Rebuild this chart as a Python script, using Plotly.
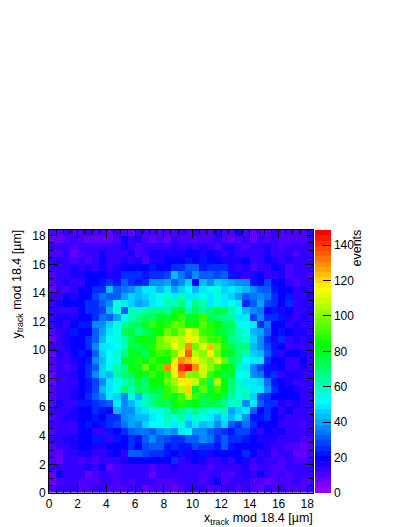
import colorsys
import plotly.graph_objects as go

BIN_WIDTH = 0.5
X_MAX = 18.4
Z_MAX = 148.5

# Counts per bin, rows listed from the top of the picture (y = 18..18.4) downwards
events_rows_top_down = [
    [9,10,12,10,9,14,11,9,8,12,9,8,13,9,11,10,9,10,12,10,14,9,10,16,9,10,18,9,8,10,11,13,10,9,10,11,12],
    [8,7,9,12,9,8,7,6,8,10,18,12,16,9,8,9,8,12,10,9,11,10,9,12,9,8,9,13,7,12,9,13,9,10,11,10,12],
    [12,13,12,9,14,13,12,14,13,14,15,12,9,13,12,13,14,15,14,16,14,15,13,9,16,15,14,11,13,12,15,13,9,14,12,13,13],
    [9,10,12,8,11,13,12,16,13,13,14,15,11,14,16,15,16,17,16,18,19,17,20,16,13,15,12,12,13,14,16,14,12,14,11,12,14],
    [14,17,13,9,12,11,13,18,12,13,15,14,16,10,17,16,18,20,18,22,20,21,19,20,16,15,17,19,14,12,18,17,12,15,13,13,14],
    [12,12,14,16,13,15,14,17,14,17,18,18,19,18,22,20,20,24,24,30,30,22,26,24,24,16,13,17,11,14,12,18,16,10,12,12,14],
    [10,13,14,16,17,18,20,19,17,16,24,24,24,23,24,24,28,42,34,28,38,30,30,28,30,22,15,13,17,18,13,14,17,11,14,13,11],
    [10,14,15,12,14,19,20,22,24,22,32,26,22,24,38,38,40,30,38,46,20,44,36,46,44,40,38,36,22,20,28,20,20,14,11,14,14],
    [8,14,11,12,20,20,24,24,42,32,34,36,42,48,48,44,50,40,46,52,42,50,56,54,46,50,45,44,38,30,30,22,20,18,13,15,12],
    [12,13,18,16,18,20,28,33,30,30,40,46,44,46,50,56,58,50,60,50,48,54,50,56,50,46,40,30,34,36,34,25,18,22,14,13,15],
    [13,15,18,19,18,24,26,30,38,54,50,46,40,44,50,52,60,62,66,56,66,60,50,56,48,54,48,26,30,40,28,24,20,24,14,16,14],
    [12,14,12,14,19,24,24,28,44,54,32,62,58,60,68,68,64,76,78,60,72,64,70,76,72,60,52,44,36,34,20,22,16,20,13,14,15],
    [14,15,17,17,18,20,26,34,32,40,52,60,66,72,70,78,76,86,92,78,80,90,72,70,66,64,48,50,28,36,26,24,22,17,14,16,13],
    [13,15,14,18,22,22,36,38,46,54,64,70,74,78,90,84,88,96,94,84,84,94,88,84,72,72,56,52,48,24,34,20,20,14,16,14,13],
    [11,13,15,22,18,20,30,40,50,56,74,76,66,72,80,86,96,92,100,110,104,90,88,80,76,70,60,54,42,40,30,20,22,18,15,17,13],
    [8,14,17,18,20,24,32,44,52,54,62,72,82,84,78,96,104,108,104,116,112,100,90,92,78,68,60,58,46,36,24,16,24,12,16,14,15],
    [12,14,16,18,20,26,36,48,48,52,62,76,74,80,88,96,100,114,104,128,98,112,122,100,88,74,66,70,44,36,28,22,18,14,14,14,12],
    [7,16,14,18,22,20,30,46,52,58,68,78,80,72,84,92,88,96,118,134,104,100,116,96,78,78,66,60,46,42,32,22,14,20,18,15,14],
    [10,12,14,16,18,22,36,44,52,56,80,78,88,82,92,86,84,110,128,124,118,106,100,110,98,70,66,52,50,48,26,20,18,14,14,18,14],
    [10,13,11,14,20,24,32,46,54,60,68,86,80,96,84,92,128,118,140,148,128,108,100,92,84,80,62,50,38,28,22,16,20,14,14,16,12],
    [8,12,14,16,20,24,36,46,42,64,70,72,84,78,90,82,92,110,130,100,96,108,92,84,72,78,52,56,36,34,22,24,14,17,15,14,13],
    [7,13,12,13,18,22,28,38,48,54,60,68,76,70,84,86,98,102,116,118,108,90,72,104,82,70,58,50,48,46,34,22,20,16,12,14,13],
    [10,13,14,15,18,22,28,42,48,56,70,62,74,70,80,76,88,98,106,120,78,96,78,90,84,68,58,58,50,48,36,26,18,18,16,14,12],
    [9,12,13,17,20,24,30,36,50,46,38,58,44,60,68,74,88,78,90,104,92,76,78,84,74,64,56,60,46,28,26,20,18,20,18,14,13],
    [11,15,12,14,22,22,24,28,30,50,36,44,50,62,66,72,74,86,88,80,82,72,76,74,66,58,60,38,48,30,24,26,16,14,16,12,14],
    [13,12,14,15,18,20,24,23,18,42,38,36,46,48,56,54,62,76,68,62,66,62,56,58,62,40,46,48,30,20,26,20,14,18,12,14,13],
    [10,12,15,16,20,20,22,18,24,24,36,40,44,42,48,52,60,54,64,50,58,54,50,44,50,44,48,38,22,22,26,18,16,14,14,12,13],
    [12,13,14,13,18,22,20,22,26,28,34,40,38,46,52,52,58,48,54,44,50,44,46,38,46,30,26,34,24,20,18,18,14,12,13,10,12],
    [9,12,12,14,20,18,14,14,22,18,24,32,34,34,30,38,40,36,48,52,38,38,30,28,26,22,28,28,22,14,20,16,18,12,14,12,13],
    [13,14,15,16,20,18,22,23,12,22,20,26,22,30,36,30,28,24,26,32,32,38,34,26,30,24,26,22,19,17,17,16,14,13,14,11,10],
    [11,13,14,15,18,20,15,16,20,20,20,24,18,28,30,32,22,26,22,22,28,24,26,22,30,22,20,20,18,20,15,14,12,10,11,8,10],
    [10,8,13,14,16,16,12,14,16,18,14,30,30,28,24,26,22,18,22,16,20,22,16,20,20,18,18,24,20,14,15,10,12,12,8,7,11],
    [11,8,12,12,10,12,10,12,14,12,17,18,20,20,20,20,18,24,14,16,18,16,14,14,16,14,20,16,12,16,14,13,10,13,10,10,12],
    [13,14,12,12,14,15,14,18,8,10,12,13,14,12,10,13,13,16,14,13,14,12,10,14,14,12,14,16,10,14,14,9,10,14,13,12,14],
    [8,18,13,12,12,8,10,14,12,10,12,12,14,14,8,14,12,14,13,12,14,11,14,12,10,10,14,16,14,18,12,11,14,11,13,14,12],
    [6,9,12,13,11,10,9,13,12,11,12,9,12,13,12,10,11,9,12,14,12,11,13,18,10,12,13,14,10,9,8,11,10,10,13,11,10],
    [9,12,14,13,11,11,13,12,10,9,11,12,12,8,10,9,10,8,11,14,12,13,10,9,13,14,9,12,10,7,12,11,12,10,9,10,14],
]
events_rows = events_rows_top_down[::-1]

X_TITLE = "x<sub>track</sub> mod 18.4 [µm]"
Y_TITLE = "y<sub>track</sub> mod 18.4 [µm]"
Z_TITLE = "events"

# ROOT's 50-step rainbow palette
steps = 50
colorscale = []
for i in range(steps):
    hue = 280 - (i + 1) * 280 / steps
    r, g, b = colorsys.hls_to_rgb(hue / 360, 0.5, 1)
    col = f"rgb({round(r*255)},{round(g*255)},{round(b*255)})"
    colorscale += [[i / steps, col], [(i + 1) / steps, col]]

FONT = "Liberation Sans"
W, H = 407, 527
L, R, T, B = 49, 313, 230, 493
pw, ph = R - L, B - T

fig = go.Figure(go.Heatmap(
    z=events_rows, x0=BIN_WIDTH / 2, dx=BIN_WIDTH, y0=BIN_WIDTH / 2, dy=BIN_WIDTH,
    zmin=0, zmax=Z_MAX, colorscale=colorscale, hoverongaps=False,
    colorbar=dict(
        thickness=16, thicknessmode="pixels", len=1, lenmode="fraction", y=0, yanchor="bottom",
        ypad=0, xpad=0, x=(315 - L) / pw, xanchor="left", outlinewidth=0,
        ticks="inside", ticklen=8, tickwidth=1, tickcolor="black", tick0=0, dtick=20,
        tickfont=dict(family=FONT, size=12, color="black"), ticklabelposition="outside",
    ),
))

axis = dict(
    range=[0, X_MAX], tick0=0, dtick=2, ticks="inside", ticklen=8, tickwidth=1, tickcolor="black",
    showline=True, linecolor="black", linewidth=1, mirror="allticks", showgrid=False, zeroline=False,
    tickfont=dict(family=FONT, size=12, color="black"),
    minor=dict(dtick=0.5, ticks="inside", ticklen=4, tickwidth=1, tickcolor="black", showgrid=False),
)
fig.update_layout(
    width=W, height=H, autosize=False, margin=dict(l=L, r=W - R, t=T, b=H - B, pad=0),
    paper_bgcolor="white", plot_bgcolor="white", font=dict(family=FONT, size=12, color="black"),
    xaxis=axis, yaxis=axis,
    annotations=[
        dict(text=X_TITLE, xref="paper", yref="paper", x=(315 - L) / pw, y=-(519 - B) / ph, xanchor="right",
             yanchor="middle", showarrow=False, font=dict(family=FONT, size=12.5)),
        dict(text=Y_TITLE, xref="paper", yref="paper", x=-(L - 17) / pw, y=(B - 228) / ph, xanchor="center",
             yanchor="top", textangle=-90, showarrow=False, font=dict(family=FONT, size=12.5)),
        dict(text=Z_TITLE, xref="paper", yref="paper", x=(357 - L) / pw, y=(B - 228) / ph, xanchor="center",
             yanchor="top", textangle=-90, showarrow=False, font=dict(family=FONT, size=12.5)),
    ],
)
fig.write_html("out.html", config={"displayModeBar": False},
               post_script="document.body.style.margin='0';")
